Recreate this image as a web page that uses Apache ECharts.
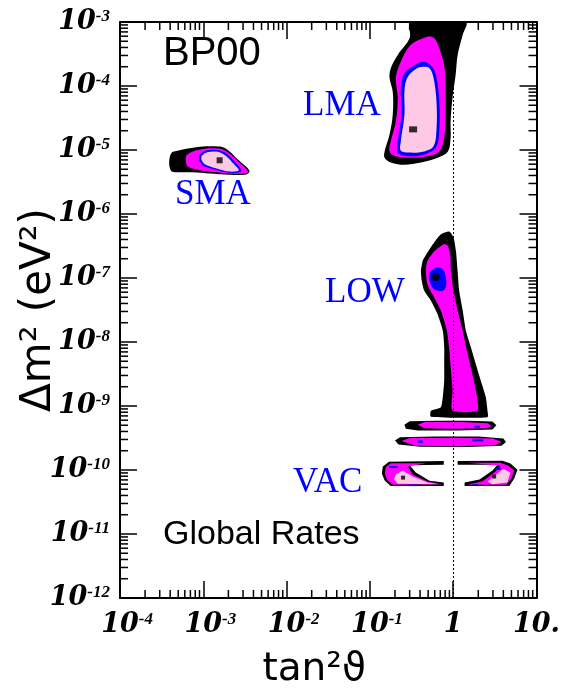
<!DOCTYPE html>
<html><head><meta charset="utf-8">
<script src="https://cdn.jsdelivr.net/npm/echarts@6/dist/echarts.min.js"></script>
<style>html,body{margin:0;padding:0;background:#fff}#c{width:563px;height:694px}</style>
</head><body><div id="c"></div>
<script>
// ---- tick labels ----
const xTickExp = [-4, -3, -2, -1, 0, 1];
const xTickBase = ['10', '10', '10', '10', '1', '10.'];
const xTickSup = ['-4', '-3', '-2', '-1', '', ''];
const yTickExp = [-12, -11, -10, -9, -8, -7, -6, -5, -4, -3];
const yTickSup = ['-12', '-11', '-10', '-9', '-8', '-7', '-6', '-5', '-4', '-3'];
const xRange = [1e-4, 10];
const yRange = [1e-12, 1e-3];
const dashedX = 1;

// ---- allowed regions [tan^2 theta, dm^2] ----
const lmaBlack = [[0.31,1e-3],[0.30,5.6e-4],[0.216,3.06e-4],[0.178,1.9e-4],[0.172,1.34e-4],[0.188,8.1e-5],[0.188,3.6e-5],[0.172,1.74e-5],[0.15,9.4e-6],[0.15,7.6e-6],[0.178,6.4e-6],[0.26,5.9e-6],[0.41,6.4e-6],[0.65,7.6e-6],[0.86,9.4e-6],[0.93,1.56e-5],[0.93,2.8e-5],[0.98,6.5e-5],[1.07,1.5e-4],[1.13,3.06e-4],[1.30,6.3e-4],[1.41,1e-3]];
const lmaMagenta = [[0.49,5.9e-4],[0.31,4.4e-4],[0.235,2.4e-4],[0.205,1.34e-4],[0.216,6.5e-5],[0.205,2.8e-5],[0.178,1.37e-5],[0.172,9.5e-6],[0.205,8.0e-6],[0.31,7.6e-6],[0.49,8.0e-6],[0.68,9.5e-6],[0.78,1.56e-5],[0.81,3.6e-5],[0.81,9.4e-5],[0.78,2.1e-4],[0.68,3.9e-4],[0.59,5.6e-4]];
const lmaBlue = [[0.43,2.4e-4],[0.34,2.1e-4],[0.26,1.6e-4],[0.235,9.4e-5],[0.24,3.6e-5],[0.216,1.37e-5],[0.216,9.1e-6],[0.285,8.0e-6],[0.45,8.5e-6],[0.62,1.09e-5],[0.68,1.96e-5],[0.68,5.7e-5],[0.62,1.5e-4],[0.54,2.1e-4]];
const lmaPink = [[0.43,2.0e-4],[0.355,1.85e-4],[0.285,1.4e-4],[0.26,8.7e-5],[0.26,3.6e-5],[0.235,1.37e-5],[0.235,9.8e-6],[0.30,9.1e-6],[0.45,9.5e-6],[0.58,1.14e-5],[0.63,2.1e-5],[0.63,5.7e-5],[0.58,1.34e-4],[0.52,1.9e-4]];

const smaBlack = [[4.15e-4,9.0e-6],[5.2e-4,9.9e-6],[7.5e-4,1.08e-5],[1.09e-3,1.14e-5],[1.65e-3,1.12e-5],[2.07e-3,9.5e-6],[2.6e-3,7.1e-6],[3.28e-3,5.45e-6],[3.59e-3,4.66e-6],[3.28e-3,4.14e-6],[2.07e-3,4.09e-6],[1.19e-3,4.29e-6],[7.5e-4,4.49e-6],[5.2e-4,4.49e-6],[4.15e-4,4.66e-6],[3.89e-4,6.3e-6]];
const smaMagenta = [[6.28e-4,8.2e-6],[7.5e-4,9.5e-6],[1.04e-3,1.05e-5],[1.65e-3,1.04e-5],[2.07e-3,8.8e-6],[2.6e-3,6.7e-6],[3.28e-3,5.1e-6],[3.43e-3,4.4e-6],[2.49e-3,4.24e-6],[1.44e-3,4.49e-6],[9.1e-4,4.83e-6],[6.56e-4,5.45e-6],[6.16e-4,6.7e-6]];
const smaBlue = [[9.1e-4,8.5e-6],[1.09e-3,9.9e-6],[1.57e-3,9.9e-6],[1.97e-3,8.5e-6],[2.44e-3,6.3e-6],[2.86e-3,4.66e-6],[2.07e-3,4.4e-6],[1.37e-3,4.95e-6],[9.9e-4,5.7e-6],[8.9e-4,7.1e-6]];
const smaPink = [[9.65e-4,8.2e-6],[1.14e-3,9.3e-6],[1.54e-3,9.3e-6],[1.89e-3,8.0e-6],[2.31e-3,6.1e-6],[2.67e-3,4.83e-6],[2.07e-3,4.6e-6],[1.41e-3,5.2e-6],[1.04e-3,6.0e-6],[9.5e-4,7.1e-6]];

const lowBlack = [[0.90,5.3e-7],[0.71,4.8e-7],[0.59,3.6e-7],[0.49,2.5e-7],[0.43,1.85e-7],[0.41,1.29e-7],[0.42,9.0e-8],[0.45,6.3e-8],[0.54,4.4e-8],[0.65,2.7e-8],[0.75,1.5e-8],[0.78,8.3e-9],[0.78,4.5e-9],[0.78,2.5e-9],[0.75,1.38e-9],[0.71,9.6e-10],[0.54,8.4e-10],[0.54,6.8e-10],[2.58,6.7e-10],[2.58,8.4e-10],[2.46,1.38e-9],[2.14,2.5e-9],[1.87,4.5e-9],[1.63,8.3e-9],[1.42,1.5e-8],[1.30,3.1e-8],[1.18,6.3e-8],[1.13,1.29e-7],[1.08,2.6e-7],[1.01,4.3e-7]];
const lowMagenta = [[0.78,3.4e-7],[0.59,2.6e-7],[0.49,1.85e-7],[0.47,1.29e-7],[0.49,8.0e-8],[0.59,5.0e-8],[0.71,3.1e-8],[0.84,1.5e-8],[0.90,7.3e-9],[0.94,3.6e-9],[0.98,1.74e-9],[0.98,8.5e-10],[1.96,8.5e-10],[1.87,1.74e-9],[1.66,3.6e-9],[1.46,7.3e-9],[1.30,1.5e-8],[1.13,3.1e-8],[1.01,6.3e-8],[0.94,1.29e-7],[0.92,2.35e-7],[0.86,3.2e-7]];
const lowBlue = [[0.62,1.46e-7],[0.52,1.22e-7],[0.52,9.0e-8],[0.59,6.7e-8],[0.75,6.3e-8],[0.82,7.5e-8],[0.82,1.0e-7],[0.75,1.37e-7]];

const band2Black = [[0.26,5.1e-10],[0.30,5.8e-10],[0.65,5.9e-10],[1.49,5.9e-10],[2.96,5.7e-10],[3.3,5.0e-10],[2.96,4.3e-10],[1.13,4.15e-10],[0.375,4.15e-10],[0.27,4.4e-10]];
const band2Magenta = [[0.375,5.1e-10],[0.45,5.6e-10],[1.3,5.6e-10],[2.6,5.4e-10],[2.9,4.8e-10],[2.5,4.5e-10],[1.0,4.4e-10],[0.45,4.5e-10]];
const band2Blue = [[1.8,4.9e-10],[2.1,4.9e-10],[2.1,4.6e-10],[1.8,4.6e-10]];
const band3Black = [[0.20,2.9e-10],[0.23,3.25e-10],[0.6,3.35e-10],[2.0,3.35e-10],[4.0,3.1e-10],[4.3,2.75e-10],[3.8,2.4e-10],[1.5,2.28e-10],[0.4,2.3e-10],[0.22,2.5e-10]];
const band3Magenta = [[0.24,2.85e-10],[0.3,3.15e-10],[1.0,3.2e-10],[3.0,3.1e-10],[3.8,2.75e-10],[3.2,2.45e-10],[1.2,2.35e-10],[0.35,2.4e-10]];
const band3BlueA = [[0.375,2.9e-10],[0.43,2.9e-10],[0.43,2.65e-10],[0.375,2.65e-10]];
const band3BlueB = [[1.7,3.0e-10],[2.3,3.0e-10],[2.3,2.8e-10],[1.7,2.8e-10]];

const vacLeftBlack = [[0.143,1.13e-10],[0.169,1.35e-10],[0.77,1.38e-10],[0.77,1.21e-10],[0.30,1.19e-10],[0.355,9.1e-11],[0.52,6.8e-11],[0.77,6.4e-11],[0.77,5.6e-11],[0.178,5.6e-11],[0.151,6.8e-11],[0.139,8.8e-11]];
const vacLeftMagenta = [[0.155,1.1e-10],[0.178,1.28e-10],[0.47,1.28e-10],[0.285,1.13e-10],[0.327,8.5e-11],[0.49,6.6e-11],[0.73,6.0e-11],[0.188,5.9e-11],[0.16,7.1e-11],[0.151,8.8e-11]];
const vacLeftPink = [[0.205,8.5e-11],[0.248,9.8e-11],[0.327,7.9e-11],[0.49,6.4e-11],[0.65,6.0e-11],[0.216,6.1e-11],[0.194,7.1e-11]];
const vacLeftBlueA = [[0.17,1.15e-10],[0.216,1.15e-10],[0.216,1.08e-10],[0.17,1.08e-10]];
const vacLeftBlueB = [[0.285,5.9e-11],[0.375,5.9e-11],[0.375,5.6e-11],[0.285,5.6e-11]];
const vacRightBlack = [[1.13,1.38e-10],[3.9,1.4e-10],[4.86,1.26e-10],[5.9,1.01e-10],[5.4,7.35e-11],[4.73,5.6e-11],[1.37,5.6e-11],[1.37,6.4e-11],[2.07,7.1e-11],[2.96,9.8e-11],[3.4,1.21e-10],[1.13,1.21e-10]];
const vacRightMagenta = [[1.49,1.3e-10],[3.69,1.3e-10],[4.6,1.17e-10],[5.4,9.8e-11],[5.0,7.35e-11],[4.35,5.9e-11],[1.49,5.9e-11],[2.25,6.7e-11],[3.2,9.4e-11],[3.69,1.17e-10]];
const vacRightPink = [[2.58,6.6e-11],[3.4,8.8e-11],[4.0,1.05e-10],[4.86,9.1e-11],[4.47,6.4e-11],[2.96,6.0e-11]];
const vacRightBlueA = [[3.2,1.1e-10],[3.7,1.1e-10],[3.7,1.0e-10],[3.2,1.0e-10]];
const vacRightBlueB = [[1.7,6.0e-11],[2.0,6.0e-11],[2.0,5.75e-11],[1.7,5.75e-11]];

// ---- best-fit points ----
const bestLMA = [[0.33, 2.1e-5]];
const bestSMA = [[1.57e-3, 6.9e-6]];
const bestLOW = [[0.62, 1.04e-7]];
const bestVAC = [[0.25, 7.6e-11], [3.1, 7.9e-11]];

// ---- texts ----
const regionNames = ['LMA', 'SMA', 'LOW', 'VAC'];
const modelName = 'BP00';
const analysisName = 'Global Rates';
const xTitle = 'tan\u00b2\u03d1';
const yTitle = '\u0394m\u00b2 (eV\u00b2)';

const BLACK = '#000000', MAGENTA = '#ff00ff', BLUE = '#0000ff', PINK = '#ffc8e4';
const polys = [
  {pts: lmaBlack, c: BLACK, s: 0.35}, {pts: lmaMagenta, c: MAGENTA, s: 0.35}, {pts: lmaBlue, c: BLUE, s: 0.35}, {pts: lmaPink, c: PINK, s: 0.35},
  {pts: smaBlack, c: BLACK, s: 0.3}, {pts: smaMagenta, c: MAGENTA, s: 0.3}, {pts: smaBlue, c: BLUE, s: 0.3}, {pts: smaPink, c: PINK, s: 0.3},
  {pts: lowBlack, c: BLACK, s: 0.2}, {pts: lowMagenta, c: MAGENTA, s: 0.2}, {pts: lowBlue, c: BLUE, s: 0.3},
  {pts: band2Black, c: BLACK, s: 0}, {pts: band2Magenta, c: MAGENTA, s: 0}, {pts: band2Blue, c: BLUE, s: 0},
  {pts: band3Black, c: BLACK, s: 0}, {pts: band3Magenta, c: MAGENTA, s: 0}, {pts: band3BlueA, c: BLUE, s: 0}, {pts: band3BlueB, c: BLUE, s: 0},
  {pts: vacLeftBlack, c: BLACK, s: 0}, {pts: vacLeftMagenta, c: MAGENTA, s: 0}, {pts: vacLeftPink, c: PINK, s: 0}, {pts: vacLeftBlueA, c: BLUE, s: 0}, {pts: vacLeftBlueB, c: BLUE, s: 0},
  {pts: vacRightBlack, c: BLACK, s: 0}, {pts: vacRightMagenta, c: MAGENTA, s: 0}, {pts: vacRightPink, c: PINK, s: 0}, {pts: vacRightBlueA, c: BLUE, s: 0}, {pts: vacRightBlueB, c: BLUE, s: 0}
];

// standard log minor ticks (2..9 per decade)
const xMinor = [], yMinor = [];
for (let e = xTickExp[0]; e < xTickExp[xTickExp.length - 1]; e++) for (let k = 2; k < 10; k++) xMinor.push(k * Math.pow(10, e));
for (let e = yTickExp[0]; e < yTickExp[yTickExp.length - 1]; e++) for (let k = 2; k < 10; k++) yMinor.push(k * Math.pow(10, e));

const lblFont = {fontFamily: 'DejaVu Serif', fontWeight: 'bold', fontStyle: 'italic', color: '#000'};
const supFont = {fontFamily: 'Liberation Serif', fontWeight: 'bold', fontStyle: 'italic', color: '#000'};
const rich = {
  b: Object.assign({fontSize: 27, lineHeight: 28}, lblFont),
  s: Object.assign({fontSize: 17, lineHeight: 17, verticalAlign: 'top'}, supFont),
  g: Object.assign({fontSize: 17, lineHeight: 17, verticalAlign: 'top'}, supFont, {color: 'rgba(0,0,0,0)'})
};
function expOf(v) { return Math.round(Math.log10(v)); }
function xFmt(v) {
  const i = xTickExp.indexOf(expOf(v)); if (i < 0) return '';
  const sup = xTickSup[i];
  return sup ? '{g|' + sup + '}{b|' + xTickBase[i] + '}{s|' + sup + '}' : '{b|' + xTickBase[i] + '}';
}
function yFmt(v) {
  const i = yTickExp.indexOf(expOf(v)); if (i < 0) return '';
  return '{b|10}{s|' + yTickSup[i] + '}';
}

const axisCommon = {
  type: 'log', logBase: 10,
  axisLine: {show: true, lineStyle: {color: '#000', width: 2}},
  axisTick: {show: true, inside: true, length: 17, lineStyle: {color: '#000', width: 1.5}},
  splitLine: {show: false}, minorTick: {show: false}, minorSplitLine: {show: false}
};

function tickSeries(vals, isX) {
  return {
    type: 'custom', coordinateSystem: 'cartesian2d', silent: true, clip: false, z: 6,
    data: vals.map(v => isX ? [v, yRange[0]] : [xRange[0], v]),
    renderItem: function (params, api) {
      const v = vals[params.dataIndex];
      const ls = {stroke: '#000', lineWidth: 1.5};
      if (isX) {
        const b = api.coord([v, yRange[0]]), t = api.coord([v, yRange[1]]);
        return {type: 'group', children: [
          {type: 'line', shape: {x1: b[0], y1: b[1], x2: b[0], y2: b[1] - 8}, style: ls},
          {type: 'line', shape: {x1: t[0], y1: t[1], x2: t[0], y2: t[1] + 8}, style: ls}]};
      } else {
        const l = api.coord([xRange[0], v]), r = api.coord([xRange[1], v]);
        return {type: 'group', children: [
          {type: 'line', shape: {x1: l[0], y1: l[1], x2: l[0] + 8, y2: l[1]}, style: ls},
          {type: 'line', shape: {x1: r[0], y1: r[1], x2: r[0] - 8, y2: r[1]}, style: ls}]};
      }
    }
  };
}

const chart = echarts.init(document.getElementById('c'), null, {renderer: 'canvas'});
chart.setOption({
  animation: false,
  backgroundColor: '#fff',
  grid: {left: 120, top: 22, width: 418, height: 578, containLabel: false, show: false},
  xAxis: [
    Object.assign({}, axisCommon, {position: 'bottom', min: xRange[0], max: xRange[1],
      axisLabel: {show: true, margin: 13, formatter: xFmt, rich: rich},
      name: xTitle, nameLocation: 'middle', nameGap: 52, nameMoveOverlap: false,
      nameTextStyle: {fontFamily: 'DejaVu Sans', fontSize: 39, color: '#000', padding: [0, 28, 0, 0]}}),
    Object.assign({}, axisCommon, {position: 'top', min: xRange[0], max: xRange[1], axisLabel: {show: false}})
  ],
  yAxis: [
    Object.assign({}, axisCommon, {position: 'left', min: yRange[0], max: yRange[1],
      axisLabel: {show: true, margin: 10, formatter: yFmt, rich: rich, align: 'right'},
      name: yTitle, nameLocation: 'middle', nameGap: 60, nameRotate: 90, nameMoveOverlap: false,
      nameTextStyle: {fontFamily: 'DejaVu Sans', fontSize: 42, color: '#000'}}),
    Object.assign({}, axisCommon, {position: 'right', min: yRange[0], max: yRange[1], axisLabel: {show: false}})
  ],
  graphic: [
    {type: 'text', left: 163, top: 34, style: {text: modelName, fontFamily: 'Liberation Sans', fontSize: 40, fill: '#000'}},
    {type: 'text', left: 163, top: 518, style: {text: analysisName, fontFamily: 'Liberation Sans', fontSize: 34, fill: '#000'}},
    {type: 'text', left: 303, top: 88, style: {text: regionNames[0], fontFamily: 'Liberation Serif', fontSize: 35, fill: BLUE}},
    {type: 'text', left: 175, top: 177, style: {text: regionNames[1], fontFamily: 'Liberation Serif', fontSize: 35, fill: BLUE}},
    {type: 'text', left: 325, top: 275, style: {text: regionNames[2], fontFamily: 'Liberation Serif', fontSize: 35, fill: BLUE}},
    {type: 'text', left: 293, top: 465, style: {text: regionNames[3], fontFamily: 'Liberation Serif', fontSize: 35, fill: BLUE}}
  ],
  series: [
    {
      type: 'custom', coordinateSystem: 'cartesian2d', silent: true, clip: true, z: 2,
      data: polys.map(p => p.pts[0]),
      renderItem: function (params, api) {
        const p = polys[params.dataIndex];
        return {type: 'polygon', shape: {points: p.pts.map(q => api.coord(q)), smooth: p.s}, style: {fill: p.c}};
      }
    },
    {
      type: 'scatter', data: bestLMA, symbol: 'rect', symbolSize: [8, 6], itemStyle: {color: '#000'}, z: 4, silent: true,
      markLine: {silent: true, symbol: ['none', 'none'], label: {show: false},
        lineStyle: {color: '#000', width: 1, type: [2, 2]}, data: [{xAxis: dashedX}]}
    },
    {type: 'scatter', data: bestSMA, symbol: 'rect', symbolSize: [6, 6], itemStyle: {color: '#000'}, z: 4, silent: true},
    {type: 'scatter', data: bestLOW, symbol: 'circle', symbolSize: 8, itemStyle: {color: '#000'}, z: 4, silent: true},
    {type: 'scatter', data: bestVAC, symbol: 'rect', symbolSize: 4, itemStyle: {color: '#000'}, z: 4, silent: true},
    tickSeries(xMinor, true),
    tickSeries(yMinor, false)
  ]
});
</script></body></html>
